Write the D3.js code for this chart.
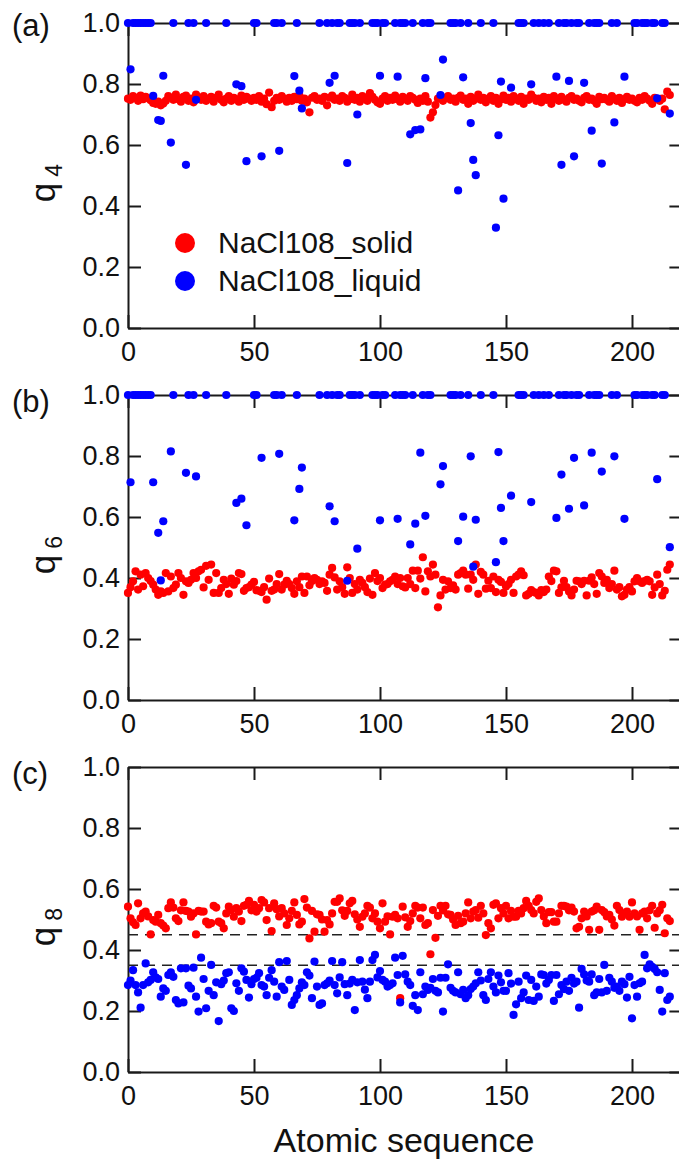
<!DOCTYPE html>
<html>
<head>
<meta charset="utf-8">
<script src="https://cdn.jsdelivr.net/npm/d3@7"></script>
<style>
  body { margin: 0; background: #fff; }
  svg { display: block; font-family: "Liberation Sans", Arial, sans-serif; }
  .axis path, .axis line { stroke: #1a1a1a; stroke-width: 2; }
  .axis text { font-size: 27px; fill: #111; }
</style>
</head>
<body>
<svg id="chart" width="679" height="1159"></svg>
<script>
// ---- data: one value per atom (index = atomic sequence) ----
const solQ4 = [
  .752,.748,.760,.755,.745,.762,.750,.758,.753,.747,
  .738,.735,.742,.730,.736,.745,.760,.755,.748,.765,
  .750,.742,.758,.762,.745,.752,.740,.765,.755,.748,
  .760,.745,.752,.758,.742,.755,.765,.748,.740,.752,
  .760,.745,.755,.750,.742,.762,.748,.758,.752,.745,
  .755,.748,.760,.742,.752,.734,.772,.724,.745,.755,
  .748,.760,.752,.742,.755,.745,.758,.750,.762,.745,
  .752,.740,.707,.755,.760,.748,.752,.745,.758,.730,
  .755,.762,.748,.752,.745,.760,.755,.742,.750,.765,
  .748,.755,.742,.760,.752,.745,.770,.758,.748,.740,
  .735,.752,.760,.745,.755,.748,.762,.750,.742,.758,
  .752,.745,.760,.755,.748,.738,.752,.745,.760,.742,
  .690,.707,.731,.752,.758,.745,.755,.760,.748,.752,
  .742,.755,.762,.748,.752,.735,.758,.745,.752,.765,
  .748,.755,.740,.752,.760,.745,.755,.735,.750,.762,
  .748,.755,.742,.760,.752,.745,.758,.735,.752,.748,
  .765,.755,.745,.752,.740,.758,.748,.755,.735,.760,
  .752,.745,.758,.748,.742,.755,.760,.748,.752,.745,
  .740,.755,.760,.748,.752,.745,.735,.758,.750,.755,
  .748,.742,.760,.752,.745,.755,.738,.750,.758,.748,
  .752,.745,.740,.755,.748,.760,.752,.745,.735,.755,
  .750,.745,.752,.717,.775,.764
];
const solQ6 = [
  .351,.370,.389,.422,.362,.411,.373,.416,.400,.390,
  .378,.362,.345,.356,.351,.416,.356,.405,.367,.378,
  .416,.400,.345,.389,.384,.394,.416,.400,.422,.427,
  .369,.440,.394,.444,.351,.416,.351,.367,.394,.380,
  .348,.398,.378,.390,.416,.413,.358,.367,.370,.378,
  .387,.360,.358,.354,.370,.329,.398,.358,.362,.380,
  .413,.362,.378,.391,.380,.367,.348,.389,.370,.405,
  .351,.405,.376,.390,.400,.394,.380,.389,.384,.358,
  .411,.433,.402,.362,.389,.370,.348,.435,.400,.351,
  .380,.362,.394,.384,.370,.354,.398,.345,.416,.390,
  .400,.367,.378,.380,.389,.394,.405,.380,.400,.373,
  .369,.400,.380,.424,.367,.424,.398,.468,.356,.422,
  .405,.444,.411,.304,.343,.394,.362,.389,.367,.376,
  .362,.411,.416,.424,.411,.365,.411,.394,.444,.348,
  .420,.411,.365,.391,.367,.405,.354,.394,.387,.351,
  .373,.380,.394,.351,.405,.411,.422,.409,.343,.348,
  .360,.354,.351,.343,.360,.354,.362,.405,.390,.424,
  .422,.351,.369,.391,.370,.356,.343,.362,.391,.389,
  .380,.391,.343,.391,.402,.380,.348,.416,.405,.384,
  .394,.367,.380,.424,.362,.370,.340,.345,.362,.370,
  .356,.389,.400,.389,.384,.390,.394,.389,.345,.369,
  .411,.380,.343,.358,.427,.444
];
const solQ8 = [
  .542,.504,.491,.482,.553,.504,.520,.526,.510,.451,
  .498,.493,.515,.488,.480,.471,.537,.556,.539,.504,
  .495,.530,.556,.528,.526,.509,.520,.451,.528,.526,
  .526,.493,.484,.488,.545,.539,.493,.488,.471,.520,
  .542,.531,.509,.537,.526,.495,.545,.548,.561,.530,
  .548,.526,.537,.564,.556,.498,.537,.462,.553,.534,
  .510,.537,.520,.482,.504,.528,.556,.515,.484,.493,
  .567,.539,.438,.528,.460,.517,.515,.500,.460,.498,
  .484,.520,.558,.558,.569,.530,.512,.528,.553,.561,
  .517,.500,.476,.509,.520,.545,.539,.504,.520,.493,
  .471,.553,.493,.510,.451,.509,.515,.504,.242,.542,
  .507,.476,.495,.520,.545,.539,.504,.539,.482,.488,
  .386,.531,.440,.512,.545,.530,.545,.517,.515,.500,
  .482,.512,.488,.493,.520,.556,.504,.526,.531,.506,
  .545,.520,.449,.488,.471,.548,.553,.504,.537,.520,
  .545,.504,.528,.509,.509,.528,.520,.537,.561,.545,
  .531,.520,.558,.569,.531,.510,.488,.524,.524,.493,
  .493,.520,.545,.545,.542,.530,.539,.526,.471,.476,
  .504,.526,.510,.466,.526,.530,.542,.466,.531,.524,
  .510,.515,.500,.480,.545,.531,.509,.520,.526,.509,
  .556,.520,.510,.466,.520,.526,.504,.530,.545,.473,
  .520,.530,.548,.455,.504,.495
];
const liqQ8 = [
  .285,.300,.334,.285,.261,.211,.285,.356,.294,.302,
  .327,.310,.305,.247,.274,.266,.318,.327,.312,.236,
  .225,.340,.228,.340,.283,.274,.342,.247,.198,.375,
  .305,.209,.266,.351,.252,.294,.167,.288,.300,.324,
  .327,.209,.200,.291,.266,.340,.329,.302,.244,.288,
  .305,.309,.324,.285,.280,.252,.309,.334,.296,.247,
  .360,.280,.269,.364,.302,.220,.236,.252,.274,.294,
  .285,.327,.316,.242,.362,.280,.220,.225,.285,.291,
  .300,.364,.285,.258,.310,.360,.288,.252,.290,.302,
  .203,.294,.367,.296,.270,.242,.296,.367,.384,.310,
  .331,.302,.296,.280,.285,.291,.375,.318,.228,.381,
  .320,.296,.285,.217,.252,.203,.327,.255,.280,.269,
  .276,.305,.266,.261,.309,.198,.309,.353,.276,.266,
  .261,.327,.255,.269,.242,.252,.272,.280,.291,.327,
  .300,.252,.236,.305,.327,.280,.261,.316,.294,.266,
  .266,.324,.290,.187,.222,.296,.242,.261,.316,.236,
  .302,.233,.280,.247,.320,.318,.290,.302,.318,.233,
  .318,.255,.285,.272,.296,.266,.309,.290,.296,.211,
  .338,.320,.300,.296,.320,.252,.261,.305,.261,.351,
  .266,.309,.296,.276,.280,.266,.296,.288,.244,.312,
  .176,.285,.247,.291,.296,.384,.340,.353,.345,.338,
  .327,.269,.198,.324,.236,.247
];
// liquid atoms with q4 = q6 = 1.0
const liqUnitIdx = [0,2,3,4,5,6,7,8,9,18,24,26,31,39,50,51,58,59,61,67,76,79,81,83,84,
  88,89,90,92,97,98,99,101,102,106,108,109,110,113,117,119,120,128,129,130,132,135,140,145,
  155,156,157,161,163,165,167,171,173,174,176,178,179,183,185,186,187,192,194,201,202,
  204,205,206,208,209,212,213];
// the other liquid atoms
const liqIdx = [1,10,12,13,14,17,23,27,43,45,47,53,60,66,68,69,80,82,87,91,100,107,112,114,116,
  118,124,125,131,133,136,137,138,146,147,148,149,152,160,170,172,175,177,181,184,188,193,197,210,215];
const liqQ4 = [.848,.761,.682,.679,.827,.608,.535,.748,.799,.793,.547,.563,.581,.826,.778,.720,
  .804,.827,.541,.700,.827,.824,.635,.649,.651,.819,.764,.880,.451,.822,.672,.551,.501,.329,
  .632,.808,.424,.788,.799,.824,.535,.810,.563,.804,.647,.539,.674,.824,.753,.703];
const liqQ6 = [.714,.714,.548,.392,.586,.815,.745,.733,.646,.660,.573,.794,.807,.589,.692,.762,
  .635,.586,.391,.496,.589,.594,.510,.578,.811,.604,.707,.767,.521,.601,.799,.437,.591,.452,
  .813,.630,.521,.670,.649,.597,.739,.627,.794,.638,.811,.749,.799,.594,.724,.501];
const yTicks = [0, 0.2, 0.4, 0.6, 0.8, 1.0];
const xTicks = [0, 50, 100, 150, 200];
const q8Guides = [0.45, 0.35];
const legendNames = ["NaCl108_solid", "NaCl108_liquid"];

const RED = "#ff0000", BLUE = "#0000ff";
const svg = d3.select("#chart");
const x = d3.scaleLinear().domain([0, 220]).range([128, 682.4]);

const liqA = liqUnitIdx.map(i => ({ i, v: 1.0 })).concat(liqIdx.map((i, k) => ({ i, v: liqQ4[k] })));
const liqB = liqUnitIdx.map(i => ({ i, v: 1.0 })).concat(liqIdx.map((i, k) => ({ i, v: liqQ6[k] })));

const panels = [
  { top: 23, label: "(a)", sub: "4", solid: solQ4.map((v, i) => ({ i, v })), liquid: liqA },
  { top: 395, label: "(b)", sub: "6", solid: solQ6.map((v, i) => ({ i, v })), liquid: liqB },
  { top: 767, label: "(c)", sub: "8", solid: solQ8.map((v, i) => ({ i, v })), liquid: liqQ8.map((v, i) => ({ i, v })) },
];

panels.forEach((p, n) => {
  const bottom = p.top + 305;
  const y = d3.scaleLinear().domain([0, 1]).range([bottom, p.top]);
  const g = svg.append("g");

  // frame and ticks (ticks point inward)
  g.append("g").attr("class", "axis").attr("transform", `translate(0,${bottom})`)
    .call(d3.axisBottom(x).tickValues(xTicks).tickSizeInner(-13).tickSizeOuter(0).tickPadding(14).tickFormat(d3.format("d")));
  g.append("g").attr("class", "axis").attr("transform", `translate(0,${p.top})`)
    .call(d3.axisTop(x).tickValues(xTicks).tickSizeInner(-13).tickSizeOuter(0).tickFormat(""));
  g.append("g").attr("class", "axis").attr("transform", `translate(${x.range()[0]},0)`)
    .call(d3.axisLeft(y).tickValues(yTicks).tickSizeInner(-13).tickSizeOuter(0).tickPadding(8).tickFormat(d3.format(".1f")));
  g.append("g").attr("class", "axis").attr("transform", `translate(${x.range()[1]},0)`)
    .call(d3.axisRight(y).tickValues(yTicks).tickSizeInner(-13).tickSizeOuter(0).tickFormat(""));
  g.selectAll(".axis .tick text").attr("fill", "#111");

  if (n === 2) {
    g.selectAll("line.guide").data(q8Guides).enter().append("line")
      .attr("class", "guide")
      .attr("x1", x.range()[0]).attr("x2", x.range()[1])
      .attr("y1", d => y(d)).attr("y2", d => y(d))
      .attr("stroke", "#222").attr("stroke-width", 1.6).attr("stroke-dasharray", "10,7");
  }

  g.append("g").selectAll("circle").data(p.solid).enter().append("circle")
    .attr("cx", d => x(d.i)).attr("cy", d => y(d.v)).attr("r", 4.1).attr("fill", RED);
  g.append("g").selectAll("circle").data(p.liquid).enter().append("circle")
    .attr("cx", d => x(d.i)).attr("cy", d => y(d.v)).attr("r", 4.1).attr("fill", BLUE);

  // panel label
  svg.append("text").attr("x", 12).attr("y", p.top + (n === 0 ? 13 : 17))
    .attr("font-size", 31).attr("fill", "#111").text(p.label);

  // y label: q with subscript
  const yl = svg.append("text")
    .attr("transform", `translate(55,${p.top + 160}) rotate(-90)`)
    .attr("text-anchor", "middle").attr("font-size", 35).attr("fill", "#111");
  yl.append("tspan").text("q");
  yl.append("tspan").attr("font-size", 23).attr("dx", 6).attr("dy", 7).text(p.sub);
});

// legend in panel (a)
const leg = svg.append("g");
legendNames.forEach((name, k) => {
  leg.append("circle").attr("cx", 185).attr("cy", 243 + k * 38).attr("r", 10).attr("fill", k === 0 ? RED : BLUE);
  leg.append("text").attr("x", 218).attr("y", 253 + k * 38).attr("font-size", 30).attr("fill", "#111").text(name);
});

// x axis title
svg.append("text").attr("x", 404).attr("y", 1152).attr("text-anchor", "middle")
  .attr("font-size", 34).attr("fill", "#111").text("Atomic sequence");
</script>
</body>
</html>
